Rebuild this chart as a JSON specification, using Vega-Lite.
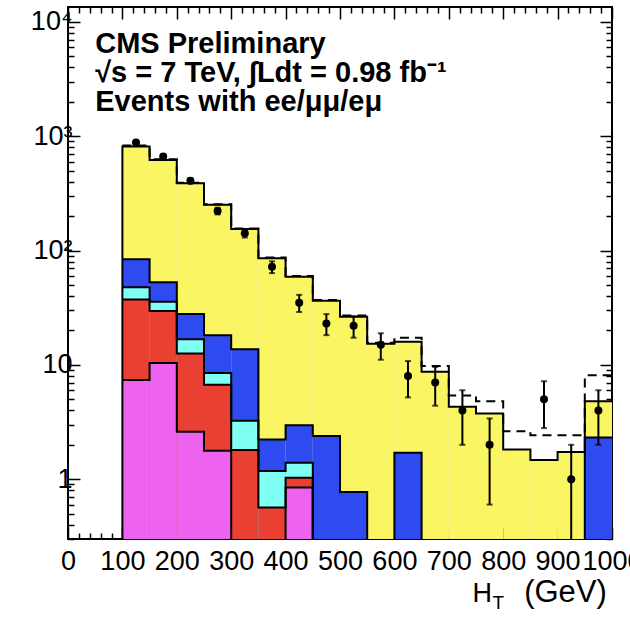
{
  "$schema": "https://vega.github.io/schema/vega-lite/v6.json",
  "width": 544,
  "height": 532,
  "autosize": {"type": "none"},
  "padding": {"left": 68, "top": 7, "right": 18, "bottom": 79},
  "background": "white",
  "config": {
    "view": {"stroke": "black", "strokeWidth": 2},
    "axis": {"domain": false, "grid": false, "labelFont": "Liberation Sans", "titleFont": "Liberation Sans", "labelColor": "black", "titleColor": "black", "tickColor": "black", "tickWidth": 1.5, "titleFontWeight": "normal"}
  },
  "datasets": {
    "hist": [
      {"proc": "total", "lo": 50, "hi": 100, "top": 0.1},
      {"proc": "total", "lo": 100, "hi": 150, "top": 813},
      {"proc": "total", "lo": 150, "hi": 200, "top": 621},
      {"proc": "total", "lo": 200, "hi": 250, "top": 388},
      {"proc": "total", "lo": 250, "hi": 300, "top": 251},
      {"proc": "total", "lo": 300, "hi": 350, "top": 154},
      {"proc": "total", "lo": 350, "hi": 400, "top": 85.6},
      {"proc": "total", "lo": 400, "hi": 450, "top": 59},
      {"proc": "total", "lo": 450, "hi": 500, "top": 36.4},
      {"proc": "total", "lo": 500, "hi": 550, "top": 26.4},
      {"proc": "total", "lo": 550, "hi": 600, "top": 15.3},
      {"proc": "total", "lo": 600, "hi": 650, "top": 15.9},
      {"proc": "total", "lo": 650, "hi": 700, "top": 8.7},
      {"proc": "total", "lo": 700, "hi": 750, "top": 4.3},
      {"proc": "total", "lo": 750, "hi": 800, "top": 3.76},
      {"proc": "total", "lo": 800, "hi": 850, "top": 1.82},
      {"proc": "total", "lo": 850, "hi": 900, "top": 1.47},
      {"proc": "total", "lo": 900, "hi": 950, "top": 1.73},
      {"proc": "total", "lo": 950, "hi": 1000, "top": 4.8},
      {"proc": "blue", "lo": 100, "hi": 150, "top": 84},
      {"proc": "blue", "lo": 150, "hi": 200, "top": 52.8},
      {"proc": "blue", "lo": 200, "hi": 250, "top": 27.9},
      {"proc": "blue", "lo": 250, "hi": 300, "top": 18.2},
      {"proc": "blue", "lo": 300, "hi": 350, "top": 13.7},
      {"proc": "blue", "lo": 350, "hi": 400, "top": 2.23},
      {"proc": "blue", "lo": 400, "hi": 450, "top": 2.97},
      {"proc": "blue", "lo": 450, "hi": 500, "top": 2.39},
      {"proc": "blue", "lo": 500, "hi": 550, "top": 0.774},
      {"proc": "blue", "lo": 550, "hi": 600, "top": 0.1},
      {"proc": "blue", "lo": 600, "hi": 650, "top": 1.7},
      {"proc": "blue", "lo": 650, "hi": 700, "top": 0.1},
      {"proc": "blue", "lo": 700, "hi": 750, "top": 0.1},
      {"proc": "blue", "lo": 750, "hi": 800, "top": 0.1},
      {"proc": "blue", "lo": 800, "hi": 850, "top": 0.1},
      {"proc": "blue", "lo": 850, "hi": 900, "top": 0.1},
      {"proc": "blue", "lo": 900, "hi": 950, "top": 0.1},
      {"proc": "blue", "lo": 950, "hi": 1000, "top": 2.32},
      {"proc": "cyan", "lo": 100, "hi": 150, "top": 47.7},
      {"proc": "cyan", "lo": 150, "hi": 200, "top": 35.7},
      {"proc": "cyan", "lo": 200, "hi": 250, "top": 16.8},
      {"proc": "cyan", "lo": 250, "hi": 300, "top": 8.5},
      {"proc": "cyan", "lo": 300, "hi": 350, "top": 3.24},
      {"proc": "cyan", "lo": 350, "hi": 400, "top": 1.18},
      {"proc": "cyan", "lo": 400, "hi": 450, "top": 1.39},
      {"proc": "cyan", "lo": 450, "hi": 500, "top": 0.1},
      {"proc": "red", "lo": 100, "hi": 150, "top": 37.4},
      {"proc": "red", "lo": 150, "hi": 200, "top": 29.6},
      {"proc": "red", "lo": 200, "hi": 250, "top": 12.6},
      {"proc": "red", "lo": 250, "hi": 300, "top": 6.7},
      {"proc": "red", "lo": 300, "hi": 350, "top": 1.8},
      {"proc": "red", "lo": 350, "hi": 400, "top": 0.565},
      {"proc": "red", "lo": 400, "hi": 450, "top": 1.03},
      {"proc": "red", "lo": 450, "hi": 500, "top": 0.1},
      {"proc": "magenta", "lo": 100, "hi": 150, "top": 7.36},
      {"proc": "magenta", "lo": 150, "hi": 200, "top": 10.4},
      {"proc": "magenta", "lo": 200, "hi": 250, "top": 2.6},
      {"proc": "magenta", "lo": 250, "hi": 300, "top": 1.77},
      {"proc": "magenta", "lo": 300, "hi": 350, "top": 0.1},
      {"proc": "magenta", "lo": 350, "hi": 400, "top": 0.1},
      {"proc": "magenta", "lo": 400, "hi": 450, "top": 0.846},
      {"proc": "magenta", "lo": 450, "hi": 500, "top": 0.1}
    ],
    "sig": [
      {"lo": 100, "hi": 150, "top": 830},
      {"lo": 150, "hi": 200, "top": 630},
      {"lo": 200, "hi": 250, "top": 392},
      {"lo": 250, "hi": 300, "top": 254},
      {"lo": 300, "hi": 350, "top": 156},
      {"lo": 350, "hi": 400, "top": 87},
      {"lo": 400, "hi": 450, "top": 60},
      {"lo": 450, "hi": 500, "top": 37},
      {"lo": 500, "hi": 550, "top": 27},
      {"lo": 550, "hi": 600, "top": 15.6},
      {"lo": 600, "hi": 650, "top": 17.3},
      {"lo": 650, "hi": 700, "top": 9.8},
      {"lo": 700, "hi": 750, "top": 5.4},
      {"lo": 750, "hi": 800, "top": 4.8},
      {"lo": 800, "hi": 850, "top": 2.63},
      {"lo": 850, "hi": 900, "top": 2.43},
      {"lo": 900, "hi": 950, "top": 2.43},
      {"lo": 950, "hi": 1000, "top": 8.1}
    ],
    "obs": [
      {"x": 125, "n": 881, "lo": 851, "hi": 911},
      {"x": 175, "n": 664, "lo": 638, "hi": 690},
      {"x": 225, "n": 407, "lo": 387, "hi": 427},
      {"x": 275, "n": 222, "lo": 207, "hi": 237},
      {"x": 325, "n": 142, "lo": 130, "hi": 154},
      {"x": 375, "n": 72, "lo": 63.5, "hi": 80.5},
      {"x": 425, "n": 35, "lo": 29, "hi": 41},
      {"x": 475, "n": 23, "lo": 18.2, "hi": 27.8},
      {"x": 525, "n": 22, "lo": 17.3, "hi": 26.7},
      {"x": 575, "n": 15, "lo": 11.1, "hi": 18.9},
      {"x": 625, "n": 8, "lo": 5.2, "hi": 10.8},
      {"x": 675, "n": 7, "lo": 4.4, "hi": 9.6},
      {"x": 725, "n": 4, "lo": 2, "hi": 6},
      {"x": 775, "n": 2, "lo": 0.6, "hi": 3.4},
      {"x": 875, "n": 5, "lo": 2.8, "hi": 7.2},
      {"x": 925, "n": 1, "lo": 0.05, "hi": 2},
      {"x": 975, "n": 4, "lo": 2, "hi": 6}
    ]
  },
  "layer": [
    {
      "data": {"name": "hist"},
      "mark": {"type": "rect", "clip": true},
      "encoding": {
        "x": {
          "field": "lo", "type": "quantitative",
          "scale": {"domain": [0, 1000], "nice": false, "zero": false},
          "axis": {
            "orient": "bottom",
            "values": [0,20,40,60,80,100,120,140,160,180,200,220,240,260,280,300,320,340,360,380,400,420,440,460,480,500,520,540,560,580,600,620,640,660,680,700,720,740,760,780,800,820,840,860,880,900,920,940,960,980,1000],
            "format": "d",
            "tickSize": {"condition": {"test": "datum.value % 100 == 0", "value": -12}, "value": -6},
            "labelExpr": "datum.value % 100 == 0 ? datum.label : ''",
            "labelFontSize": 27, "labelPadding": 21, "labelOverlap": false, "labelFlush": false,
            "title": "H", "titleFontSize": 27, "titleAnchor": "start", "titleAlign": "left", "titleX": 404, "titleY": 62, "titleBaseline": "alphabetic"
          }
        },
        "x2": {"field": "hi"},
        "y": {
          "field": "top", "type": "quantitative",
          "scale": {"type": "log", "domain": [0.3, 13500], "nice": false},
          "axis": {
            "orient": "left",
            "values": [0.3,0.4,0.5,0.6,0.7,0.8,0.9,1,2,3,4,5,6,7,8,9,10,20,30,40,50,60,70,80,90,100,200,300,400,500,600,700,800,900,1000,2000,3000,4000,5000,6000,7000,8000,9000,10000],
            "tickSize": {"condition": {"test": "datum.value == 1 || datum.value == 10 || datum.value == 100 || datum.value == 1000 || datum.value == 10000", "value": -12}, "value": -6},
            "labelExpr": "datum.value == 1 ? '1' : datum.value == 10 ? '10' : datum.value == 100 ? '10²' : datum.value == 1000 ? '10³' : datum.value == 10000 ? '10⁴' : ''",
            "labelFontSize": 27, "labelPadding": 8, "labelOverlap": false, "labelFlush": false,
            "title": null
          }
        },
        "y2": {"datum": 0.3},
        "color": {
          "field": "proc", "type": "nominal",
          "scale": {"domain": ["total", "blue", "cyan", "red", "magenta"], "range": ["#faf562", "#2e4bf0", "#80fff5", "#ea3f33", "#ee62f0"]},
          "legend": null
        }
      }
    },
    {
      "data": {"name": "hist"},
      "transform": [{"fold": ["lo", "hi"], "as": ["edge", "xe"]}],
      "mark": {"type": "line", "clip": true, "color": "black", "strokeWidth": 2, "interpolate": "linear"},
      "encoding": {
        "x": {
          "field": "xe", "type": "quantitative",
          "axis": {
            "orient": "top",
            "values": [0,20,40,60,80,100,120,140,160,180,200,220,240,260,280,300,320,340,360,380,400,420,440,460,480,500,520,540,560,580,600,620,640,660,680,700,720,740,760,780,800,820,840,860,880,900,920,940,960,980,1000],
            "tickSize": {"condition": {"test": "datum.value % 100 == 0", "value": -12}, "value": -6},
            "labels": false, "title": null
          }
        },
        "y": {
          "field": "top", "type": "quantitative",
          "axis": {
            "orient": "right",
            "values": [0.3,0.4,0.5,0.6,0.7,0.8,0.9,1,2,3,4,5,6,7,8,9,10,20,30,40,50,60,70,80,90,100,200,300,400,500,600,700,800,900,1000,2000,3000,4000,5000,6000,7000,8000,9000,10000],
            "tickSize": {"condition": {"test": "datum.value == 1 || datum.value == 10 || datum.value == 100 || datum.value == 1000 || datum.value == 10000", "value": -12}, "value": -6},
            "labels": false, "title": null
          }
        },
        "detail": {"field": "proc", "type": "nominal"},
        "order": [{"field": "lo", "type": "quantitative"}, {"field": "xe", "type": "quantitative"}]
      }
    },
    {
      "data": {"name": "sig"},
      "transform": [{"fold": ["lo", "hi"], "as": ["edge", "xe"]}],
      "mark": {"type": "line", "clip": true, "color": "black", "strokeWidth": 2, "strokeDash": [9, 6]},
      "encoding": {
        "x": {
          "field": "xe", "type": "quantitative",
          "axis": {"orient": "bottom", "ticks": false, "labels": false, "title": "T", "titleFontSize": 19, "titleAnchor": "start", "titleAlign": "left", "titleX": 424, "titleY": 69, "titleBaseline": "alphabetic"}
        },
        "y": {"field": "top", "type": "quantitative", "axis": null},
        "order": [{"field": "lo", "type": "quantitative"}, {"field": "xe", "type": "quantitative"}]
      }
    },
    {
      "data": {"name": "obs"},
      "mark": {"type": "rule", "clip": true, "color": "black", "strokeWidth": 2},
      "encoding": {
        "x": {
          "field": "x", "type": "quantitative",
          "axis": {"orient": "bottom", "ticks": false, "labels": false, "title": "(GeV)", "titleFontSize": 31, "titleAnchor": "start", "titleAlign": "center", "titleX": 497, "titleY": 62, "titleBaseline": "alphabetic"}
        },
        "y": {"field": "lo", "type": "quantitative", "axis": null},
        "y2": {"field": "hi"}
      }
    },
    {
      "data": {"name": "obs"},
      "mark": {"type": "tick", "orient": "horizontal", "size": 6, "thickness": 2, "color": "black", "clip": true},
      "encoding": {
        "x": {"field": "x", "type": "quantitative", "axis": null},
        "y": {"field": "hi", "type": "quantitative", "axis": null}
      }
    },
    {
      "data": {"name": "obs"},
      "mark": {"type": "tick", "orient": "horizontal", "size": 6, "thickness": 2, "color": "black", "clip": true},
      "encoding": {
        "x": {"field": "x", "type": "quantitative", "axis": null},
        "y": {"field": "lo", "type": "quantitative", "axis": null}
      }
    },
    {
      "data": {"name": "obs"},
      "mark": {"type": "circle", "size": 64, "color": "black", "opacity": 1},
      "encoding": {
        "x": {"field": "x", "type": "quantitative", "axis": null},
        "y": {"field": "n", "type": "quantitative", "axis": null}
      }
    },
    {
      "data": {"values": [{}]},
      "mark": {"type": "text", "align": "left", "baseline": "alphabetic", "font": "Liberation Sans", "fontSize": 29, "fontWeight": "bold", "color": "black"},
      "encoding": {
        "x": {"datum": 50, "type": "quantitative", "axis": null},
        "y": {"datum": 5346, "type": "quantitative", "axis": null},
        "text": {"value": "CMS Preliminary"}
      }
    },
    {
      "data": {"values": [{}]},
      "mark": {"type": "text", "align": "left", "baseline": "alphabetic", "font": "Liberation Sans", "fontSize": 29, "fontWeight": "bold", "color": "black"},
      "encoding": {
        "x": {"datum": 50, "type": "quantitative", "axis": null},
        "y": {"datum": 2981, "type": "quantitative", "axis": null},
        "text": {"value": "√s = 7 TeV, ∫Ldt = 0.98 fb⁻¹"}
      }
    },
    {
      "data": {"values": [{}]},
      "mark": {"type": "text", "align": "left", "baseline": "alphabetic", "font": "Liberation Sans", "fontSize": 29, "fontWeight": "bold", "color": "black"},
      "encoding": {
        "x": {"datum": 50, "type": "quantitative", "axis": null},
        "y": {"datum": 1662, "type": "quantitative", "axis": null},
        "text": {"value": "Events with ee/μμ/eμ"}
      }
    }
  ],
  "resolve": {"axis": {"x": "independent", "y": "independent"}}
}
